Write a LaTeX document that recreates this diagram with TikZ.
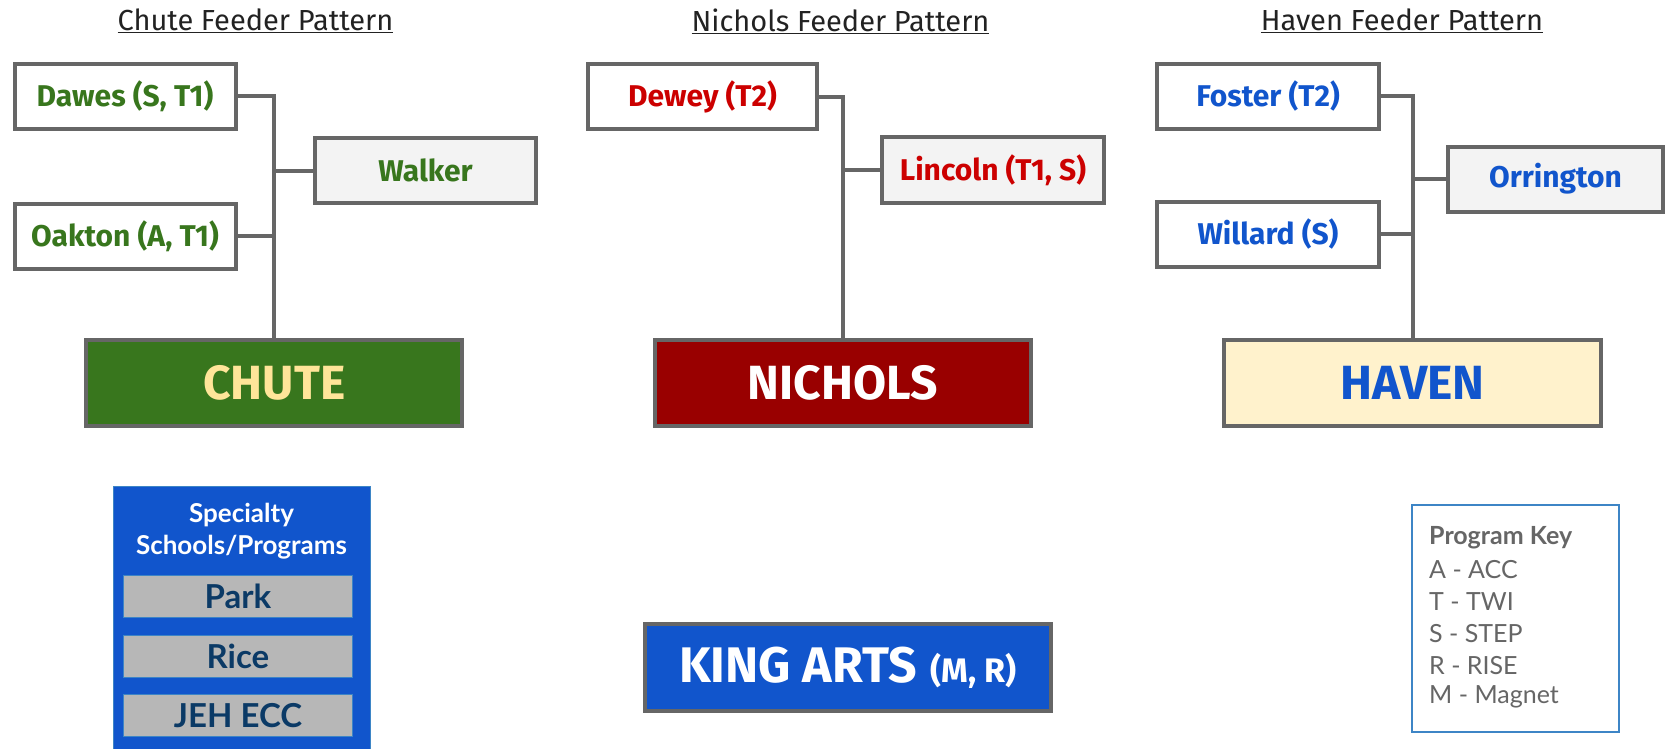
\documentclass[tikz,border=0pt]{standalone}
\usepackage{fontspec}
\setmainfont{Fira Sans}
\newfontfamily\lato{Lato}
\definecolor{linegray}{HTML}{666666}
\definecolor{cgreen}{HTML}{38761D}
\definecolor{cyellow}{HTML}{FFE599}
\definecolor{nred}{HTML}{990000}
\definecolor{tred}{HTML}{CC0000}
\definecolor{hblue}{HTML}{1155CC}
\definecolor{hcream}{HTML}{FFF2CC}
\definecolor{lightfill}{HTML}{F3F3F3}
\definecolor{keyblue}{HTML}{3D85C6}
\definecolor{boxgray}{HTML}{B7B7B7}
\definecolor{navy}{HTML}{0B3A66}
\definecolor{titlegray}{HTML}{222222}
\begin{document}
\begin{tikzpicture}[x=1pt,y=-1pt,
  feeder/.style={draw=linegray, line width=4pt, fill=white, inner sep=0pt,
    minimum height=65pt, font=\fontsize{30}{34}\selectfont\bfseries},
  hub/.style={draw=linegray, line width=4pt, inner sep=0pt,
    minimum height=86.5pt, font=\fontsize{48}{54}\selectfont\bfseries},
  conn/.style={draw=linegray, line width=4pt},
  ttl/.style={inner sep=0pt, text=titlegray, font=\fontsize{29}{32}\selectfont},
  spec/.style={draw=keyblue, line width=0.8pt, fill=boxgray, inner sep=0pt,
    minimum width=229pt, minimum height=42pt, text=navy, font=\lato\fontsize{33}{36}\selectfont\bfseries},
  keyline/.style={anchor=west, inner sep=0pt, text=linegray, font=\lato\fontsize{25}{28}\selectfont}
]
\useasboundingbox (0,0) rectangle (1667,749);
\fill[white] (0,0) rectangle (1667,749);

% titles
\node[ttl] (t1) at (255.5,21) {\underline{Chute Feeder Pattern}};
\node[ttl] (t2) at (840.5,21) {\underline{Nichols Feeder Pattern}};
\node[ttl] (t3) at (1402,21) {\underline{Haven Feeder Pattern}};

% Chute
\node[feeder, minimum width=221pt, text=cgreen] (dawes) at (125,96.3) {Dawes (S, T1)};
\node[feeder, minimum width=221pt, fill=lightfill, text=cgreen] (walker) at (425.5,170.5) {Walker};
\node[feeder, minimum width=221pt, text=cgreen] (oakton) at (125,236) {Oakton (A, T1)};
\node[hub, minimum width=376pt, fill=cgreen, text=cyellow] (chute) at (274.3,383) {CHUTE};
\draw[conn] (dawes.east) -| (chute.north);
\draw[conn] (walker.west) -- (walker.west -| chute.north);
\draw[conn] (oakton.east) -- (oakton.east -| chute.north);

% Nichols
\node[feeder, minimum width=229pt, text=tred] (dewey) at (702.5,97) {Dewey (T2)};
\node[feeder, minimum width=222pt, fill=lightfill, text=tred] (lincoln) at (993,170) {Lincoln (T1, S)};
\node[hub, minimum width=376pt, fill=nred, text=white] (nichols) at (843,383) {NICHOLS};
\draw[conn] (dewey.east) -| (nichols.north);
\draw[conn] (lincoln.west) -- (lincoln.west -| nichols.north);

% Haven
\node[feeder, minimum width=222pt, text=hblue] (foster) at (1268,96.5) {Foster (T2)};
\node[feeder, minimum width=215pt, fill=lightfill, text=hblue] (orrington) at (1555.5,179) {Orrington};
\node[feeder, minimum width=222pt, text=hblue] (willard) at (1268,234) {Willard (S)};
\node[hub, minimum width=377pt, fill=hcream, text=hblue] (haven) at (1412.5,383) {HAVEN};
\draw[conn] (foster.east) -| (haven.north);
\draw[conn] (orrington.west) -- (orrington.west -| haven.north);
\draw[conn] (willard.east) -- (willard.east -| haven.north);

% King Arts
\node[hub, minimum width=406pt, fill=hblue, text=white, font=\fontsize{50}{56}\selectfont\bfseries] (king) at (848,667.5) {KING ARTS\hspace{14pt}\fontsize{34}{38}\selectfont(M, R)};

% Specialty
\node[draw=keyblue, line width=0.8pt, fill=hblue, inner sep=0pt, minimum width=257pt, minimum height=280pt, anchor=north] (specbox) at (241.5,486) {};
\node[align=center, text=white, inner sep=0pt, font=\lato\fontsize{26}{32}\selectfont\bfseries] (spectitle) at (241.5,531) {Specialty\\Schools/Programs};
\node[spec] (park) at (238,596.5) {Park};
\node[spec] (rice) at (238,656) {Rice};
\node[spec] (jeh) at (238,715.5) {JEH ECC};

% Key
\node[draw=keyblue, line width=1.2pt, inner sep=0pt, minimum width=207pt, minimum height=227pt] (keybox) at (1515.5,618.5) {};
\node[keyline, font=\lato\fontsize{25}{28}\selectfont\bfseries] (k0) at (1429,538) {Program Key};
\node[keyline] (k1) at (1429,570) {A - ACC};
\node[keyline] (k2) at (1429,602) {T - TWI};
\node[keyline] (k3) at (1429,634) {S - STEP};
\node[keyline] (k4) at (1429,666) {R - RISE};
\node[keyline] (k5) at (1429,697) {M - Magnet};
\end{tikzpicture}
\end{document}
